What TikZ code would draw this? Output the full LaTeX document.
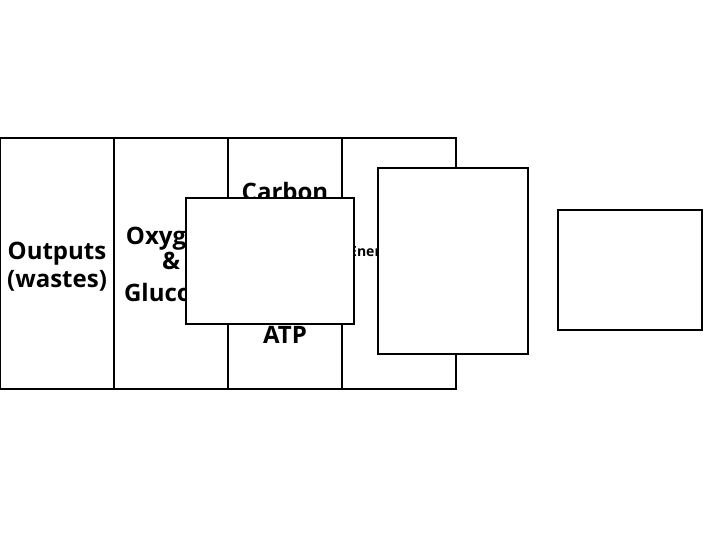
\documentclass[tikz,border=0pt]{standalone}
\usepackage{fontspec}
\setmainfont{Open Sans}
\tikzset{
  cell/.style={draw=black, line width=2pt},
  coverbox/.style={draw=black, fill=white, line width=1.3pt},
  bigtext/.style={font=\bfseries\fontsize{24}{28}\selectfont, inner sep=0pt, anchor=base},
  smalltext/.style={font=\bfseries\fontsize{14}{16}\selectfont, inner sep=0pt, anchor=base west}
}
\begin{document}
\begin{tikzpicture}[x=1pt,y=-1pt]
\useasboundingbox (0,0) rectangle (720,540);
% table cells
\draw[cell] (0,138) rectangle (114,389);
\draw[cell] (114,138) rectangle (228,389);
\draw[cell] (228,138) rectangle (342,389);
\draw[cell] (342,138) rectangle (456,389);
% texts
\node[bigtext] (out1) at (57,259) {Outputs};
\node[bigtext] (out2) at (57,287) {(wastes)};
\node[bigtext] (ox) at (171,244) {Oxygen};
\node[bigtext] (amp) at (171,269) {\&};
\node[bigtext] (glu) at (171,301) {Glucose};
\node[bigtext] (carb) at (285,201) {Carbon};
\node[bigtext] (atp) at (285,343) {ATP};
\node[smalltext] (ener) at (349,256) {Energy};
% covering boxes
\node[coverbox, minimum width=168pt, minimum height=126pt, inner sep=0pt] (boxA) at (270,261) {};
\node[coverbox, minimum width=150pt, minimum height=186pt, inner sep=0pt] (boxB) at (453,261) {};
\node[coverbox, minimum width=144pt, minimum height=120pt, inner sep=0pt] (boxC) at (630,270) {};
\end{tikzpicture}
\end{document}
